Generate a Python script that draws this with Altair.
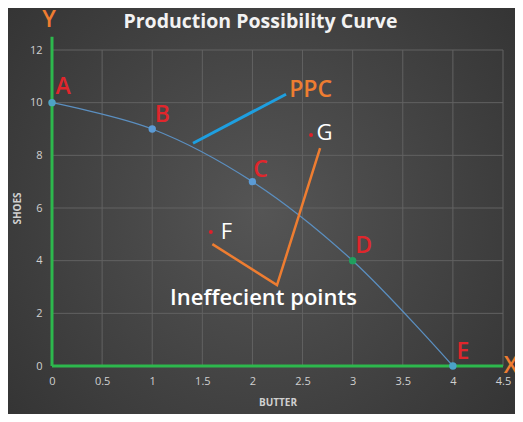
import altair as alt
import pandas as pd

# Curve points
pt_names = ["A", "B", "C", "D", "E"]
butter = [0, 1, 2, 3, 4]
shoes = [10, 9, 7, 4, 0]
pt_colors = ["#4fa3c4", "#5b9bd5", "#5b9bd5", "#20a05e", "#4ba3c8"]

# Label positions for letters
lbl_x = [0.11, 1.10, 2.08, 3.11, 4.10]
lbl_y = [10.59, 9.53, 7.44, 4.55, 0.53]

# Inefficient points
ineff_names = ["F", "G"]
ineff_x = [1.585, 2.585]
ineff_y = [5.09, 8.77]
ineff_lbl_x = [1.74, 2.72]
ineff_lbl_y = [5.09, 8.84]

# Annotation lines
ppc_line_x = [1.407, 2.335]
ppc_line_y = [8.46, 10.32]
arrow_x = [1.60, 2.245, 2.675]
arrow_y = [4.63, 3.07, 8.27]

# Axis extents (green lines)
xaxis_x = [0, 4.5]
xaxis_y = [0, 0]
yaxis_x = [0, 0]
yaxis_y = [0, 12.5]

# Tick values / gridlines
x_ticks = [0, 0.5, 1, 1.5, 2, 2.5, 3, 3.5, 4, 4.5]
y_ticks = [0, 2, 4, 6, 8, 10, 12]

W, H = 451, 316
PL, PT, PR, PB = 44, 42, 12, 48

xs = alt.Scale(domain=[0, 4.5], nice=False)
ys = alt.Scale(domain=[0, 12], nice=False)

curve_df = pd.DataFrame({"name": pt_names, "x": butter, "y": shoes, "c": pt_colors,
                         "lx": lbl_x, "ly": lbl_y})
ineff_df = pd.DataFrame({"name": ineff_names, "x": ineff_x, "y": ineff_y,
                         "lx": ineff_lbl_x, "ly": ineff_lbl_y})
ppc_df = pd.DataFrame({"x": ppc_line_x, "y": ppc_line_y, "o": [0, 1]})
arrow_df = pd.DataFrame({"x": arrow_x, "y": arrow_y, "o": [0, 1, 2]})
xaxis_df = pd.DataFrame({"x": [xaxis_x[0]], "x2": [xaxis_x[1]], "y": [xaxis_y[0]]})
yaxis_df = pd.DataFrame({"x": [yaxis_x[0]], "y": [yaxis_y[0]], "y2": [yaxis_y[1]]})
gx_df = pd.DataFrame({"x": [v for v in x_ticks if v > 0]})
gy_df = pd.DataFrame({"y": [v for v in y_ticks if v > 0]})
txt_df = pd.DataFrame({"t": ["PPC", "Ineffecient points", "X", "Y"],
                       "x": [2.58, 2.11, 4.58, -0.03],
                       "y": [10.47, 2.58, 0.0, 13.13],
                       "c": ["#ee7d31", "#ffffff", "#ee7d31", "#ee7d31"],
                       "s": [23, 22, 23, 23]})
title_df = pd.DataFrame({"t": ["Production Possibility Curve"], "x": [2.08], "y": [13.05]})

xaxis = alt.Axis(values=x_ticks, title="BUTTER", format="~g", grid=False,
                 domain=False, ticks=False, labelPadding=9, titlePadding=11,
                 labelFlush=False, zindex=1)
yaxis = alt.Axis(values=y_ticks, title="SHOES", format="~g", grid=False,
                 domain=False, ticks=False, labelPadding=10, titlePadding=7, zindex=1)

bg = alt.Chart(pd.DataFrame({"a": [0]})).mark_rect(
    fill=alt.RadialGradient(
        gradient="radial", x1=0.5, y1=0.5, x2=0.5, y2=0.5, r1=0, r2=0.75,
        stops=[alt.GradientStop(color="#555555", offset=0),
               alt.GradientStop(color="#2f2f2f", offset=1)])
).encode(x=alt.value(-PL), x2=alt.value(W + PR), y=alt.value(-PT), y2=alt.value(H + PB))

gridx = alt.Chart(gx_df).mark_rule(color="#626262", strokeWidth=1).encode(
    x=alt.X("x:Q", scale=xs, axis=xaxis), y=alt.value(0), y2=alt.value(H))
gridy = alt.Chart(gy_df).mark_rule(color="#626262", strokeWidth=1).encode(
    y=alt.Y("y:Q", scale=ys, axis=yaxis), x=alt.value(0), x2=alt.value(W))

curve = alt.Chart(curve_df).mark_line(interpolate="catmull-rom", color="#5b8fc0",
                                      strokeWidth=1.3).encode(
    x=alt.X("x:Q", scale=xs), y=alt.Y("y:Q", scale=ys))
xrule = alt.Chart(xaxis_df).mark_rule(color="#2db84d", strokeWidth=3).encode(
    x=alt.X("x:Q", scale=xs), x2="x2:Q", y=alt.Y("y:Q", scale=ys))
yrule = alt.Chart(yaxis_df).mark_rule(color="#2db84d", strokeWidth=3).encode(
    x=alt.X("x:Q", scale=xs), y=alt.Y("y:Q", scale=ys), y2="y2:Q")
pts = alt.Chart(curve_df).mark_circle(size=55, opacity=1).encode(
    x=alt.X("x:Q", scale=xs), y=alt.Y("y:Q", scale=ys),
    color=alt.Color("c:N", scale=None))
letters = alt.Chart(curve_df).mark_text(font="Open Sans", fontSize=23, fontWeight=600,
                                        color="#e0262c").encode(
    x=alt.X("lx:Q", scale=xs), y=alt.Y("ly:Q", scale=ys), text="name:N")
ineff = alt.Chart(ineff_df).mark_circle(size=16, color="#e0202a", opacity=1).encode(
    x=alt.X("x:Q", scale=xs), y=alt.Y("y:Q", scale=ys))
ineff_lbl = alt.Chart(ineff_df).mark_text(font="Open Sans", fontSize=22, fontWeight=500,
                                          color="#ffffff").encode(
    x=alt.X("lx:Q", scale=xs), y=alt.Y("ly:Q", scale=ys), text="name:N")
ppc_line = alt.Chart(ppc_df).mark_line(color="#1e9fe0", strokeWidth=3).encode(
    x=alt.X("x:Q", scale=xs), y=alt.Y("y:Q", scale=ys), order="o:Q")
arrow = alt.Chart(arrow_df).mark_line(color="#ee7d31", strokeWidth=2.5).encode(
    x=alt.X("x:Q", scale=xs), y=alt.Y("y:Q", scale=ys), order="o:Q")
texts = alt.Chart(txt_df).mark_text(font="Open Sans", fontWeight=600).encode(
    x=alt.X("x:Q", scale=xs), y=alt.Y("y:Q", scale=ys), text="t:N",
    color=alt.Color("c:N", scale=None), size=alt.Size("s:Q", scale=None))
title = alt.Chart(title_df).mark_text(font="Open Sans", fontSize=19.5, fontWeight="bold",
                                      color="#f2f2f2").encode(
    x=alt.X("x:Q", scale=xs), y=alt.Y("y:Q", scale=ys), text="t:N")

chart = alt.layer(bg, gridx, gridy, curve, xrule, yrule, pts, letters, ineff, ineff_lbl,
                  ppc_line, arrow, texts, title).properties(
    width=W, height=H,
    autosize=alt.AutoSizeParams(type="none"),
    padding={"left": PL, "top": PT, "right": PR, "bottom": PB},
    background="#3a3a3a",
).configure_view(stroke=None).configure_axis(
    labelColor="#d0d0d0", labelFont="Open Sans",
    labelFontSize=11, titleColor="#d0d0d0", titleFont="Open Sans", titleFontSize=10,
    titleFontWeight="bold")

chart.save("out.html", embed_options={"renderer": "svg", "actions": False})
